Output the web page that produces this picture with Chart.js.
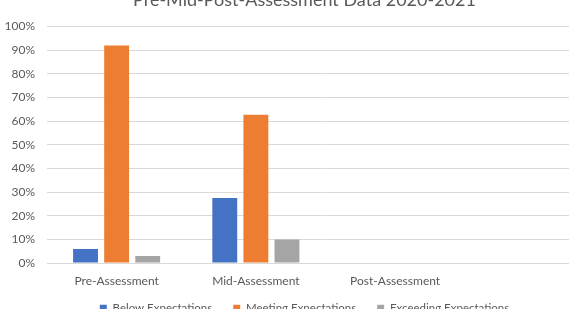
<!DOCTYPE html>
<html>
<head>
<meta charset="utf-8">
<script src="https://cdn.jsdelivr.net/npm/chart.js@4"></script>
<style>
  html, body { margin: 0; padding: 0; overflow: hidden; background: #fff; }
  body { width: 569px; height: 309px; position: relative; }
  #wrap { position: absolute; left: 0; top: -18px; width: 630px; height: 352px; }
</style>
</head>
<body>
<div id="wrap"><canvas id="myChart"></canvas></div>
<script>
var categories = ["Pre-Assessment", "Mid-Assessment", "Post-Assessment", ""];
var belowExpectations = [6, 27.5, null, null];
var meetingExpectations = [92, 62.7, null, null];
var exceedingExpectations = [3, 10, null, null];

var textColor = "#595959";
var fontFamily = "Lato, 'Open Sans', sans-serif";

// pull the legend up, closer to the category labels
var legendShift = {
  id: "legendShift",
  afterLayout: function (chart) {
    chart.legend.top -= 10;
    chart.legend.bottom -= 10;
  },
};

var ctx = document.getElementById("myChart");
var myChart = new Chart(ctx, {
  type: "bar",
  plugins: [legendShift],
  data: {
    labels: categories,
    datasets: [
      {
        label: "Below Expectations",
        data: belowExpectations,
        backgroundColor: "#4472C4",
      },
      {
        label: "Meeting Expectations",
        data: meetingExpectations,
        backgroundColor: "#ED7D31",
      },
      {
        label: "Exceeding Expectations",
        data: exceedingExpectations,
        backgroundColor: "#A5A5A5",
      },
    ],
  },
  options: {
    responsive: true,
    maintainAspectRatio: false,
    animation: false,
    categoryPercentage: 0.67,
    barPercentage: 0.8,
    layout: {
      padding: { left: 5, right: 26, top: 0, bottom: 0 },
    },
    plugins: {
      title: {
        display: true,
        text: "Pre-Mid-Post-Assessment Data 2020-2021",
        color: textColor,
        font: { family: fontFamily, size: 18, weight: "normal" },
        padding: { top: 7, bottom: 16 },
      },
      legend: {
        position: "bottom",
        labels: {
          color: textColor,
          font: { family: fontFamily, size: 11.5 },
          boxWidth: 7,
          boxHeight: 7,
          padding: 21,
        },
      },
      tooltip: { enabled: false },
    },
    scales: {
      x: {
        grid: { display: false },
        border: { color: "#d9d9d9" },
        ticks: {
          color: textColor,
          font: { family: fontFamily, size: 12 },
          padding: 3,
          maxRotation: 0,
        },
      },
      y: {
        min: 0,
        max: 100,
        grid: { color: "#d9d9d9", drawTicks: false },
        border: { display: false },
        ticks: {
          stepSize: 10,
          color: textColor,
          font: { family: fontFamily, size: 12 },
          padding: 12,
          callback: function (value) {
            return value + "%";
          },
        },
        afterFit: function (scale) {
          scale.width = 42;
        },
      },
    },
  },
});
</script>
</body>
</html>
